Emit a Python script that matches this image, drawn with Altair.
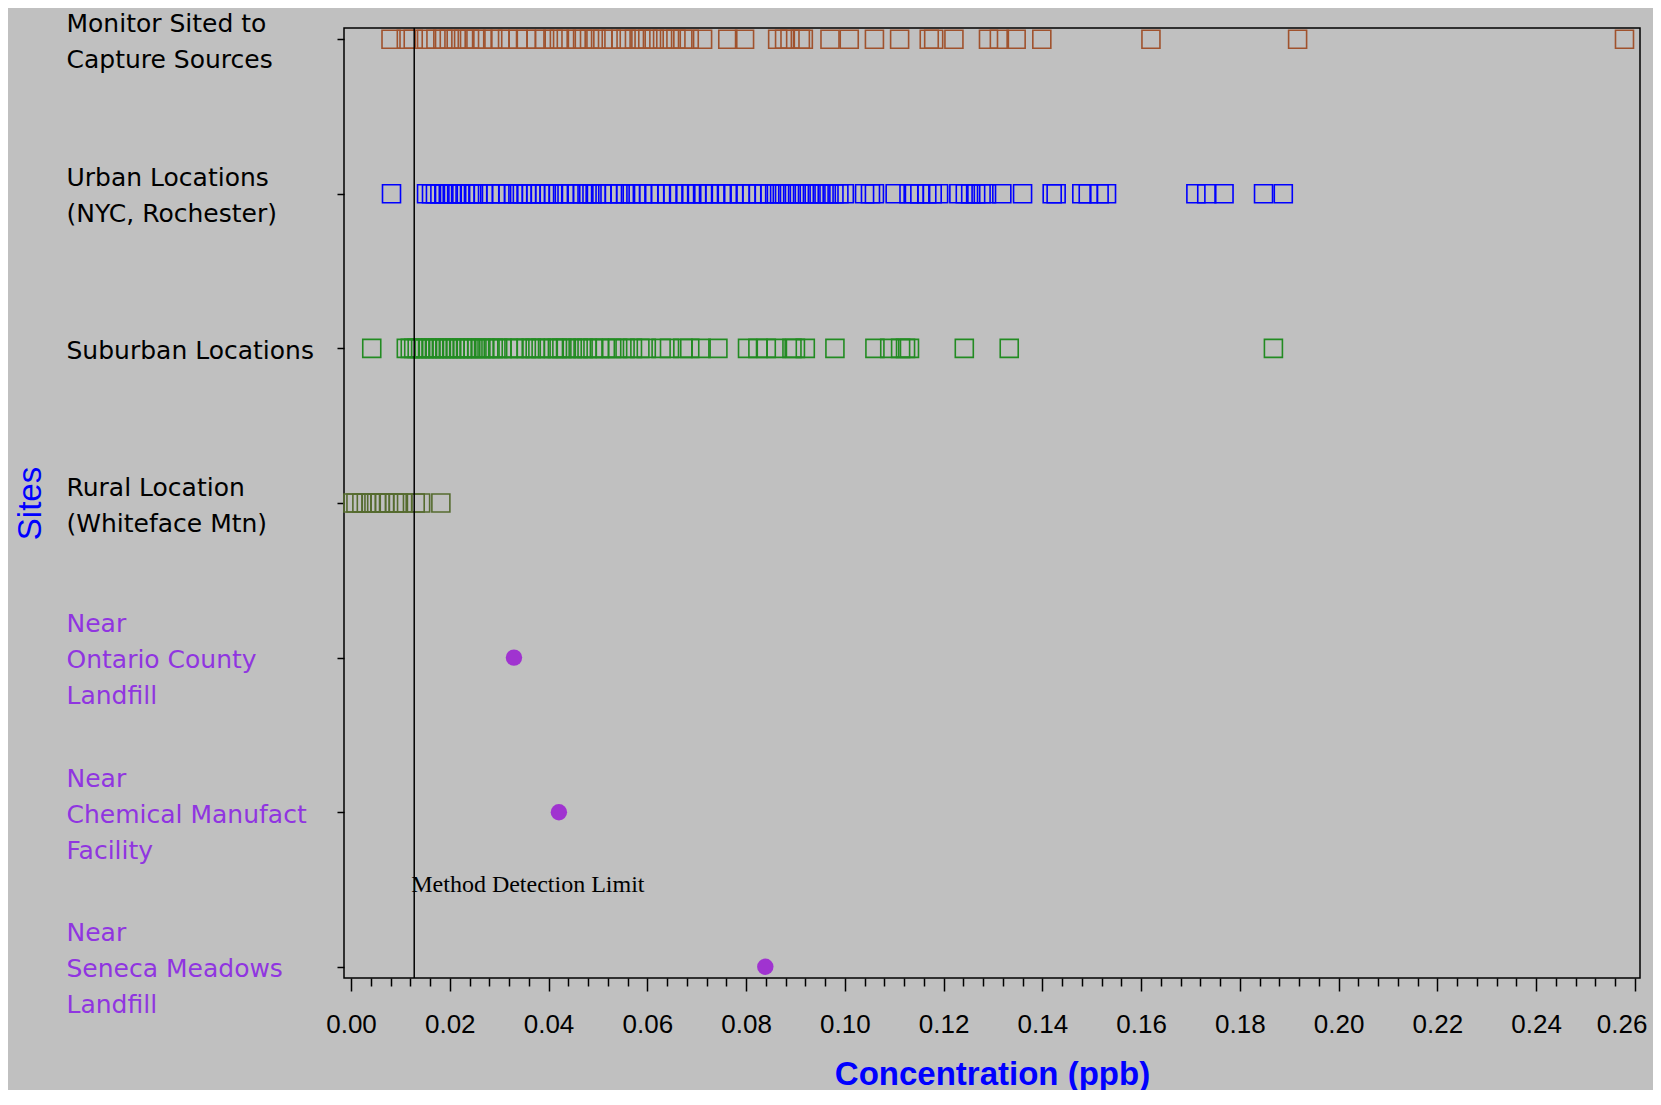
import altair as alt
import pandas as pd

sites = [
    "Monitor Sited to|Capture Sources",
    "Urban Locations|(NYC, Rochester)",
    "Suburban Locations",
    "Rural Location|(Whiteface Mtn)",
    "Near|Ontario County|Landfill",
    "Near|Chemical Manufact|Facility",
    "Near|Seneca Meadows|Landfill",
]
square_sites = sites[:4]
square_colors = ["#A0522D", "#0000FF", "#228B22", "#556B2F"]
dot_color = "#A033D0"
label_purple = "#9035E0"

monitor_vals = [
    0.0081, 0.0112, 0.0126, 0.0153, 0.0172, 0.0186, 0.0199, 0.0213, 0.0228, 0.0240,
    0.0253, 0.0267, 0.0287, 0.0302, 0.0317, 0.0338, 0.0355, 0.0375, 0.0392, 0.0409,
    0.0422, 0.0436, 0.0456, 0.0469, 0.0483, 0.0496, 0.0510, 0.0527, 0.0547, 0.0557,
    0.0574, 0.0587, 0.0601, 0.0614, 0.0631, 0.0645, 0.0658, 0.0672, 0.0685, 0.0712,
    0.0763, 0.0797, 0.0864, 0.0878, 0.0889, 0.0910, 0.0916, 0.0970, 0.1009, 0.1060,
    0.1111, 0.1171, 0.1180, 0.1221, 0.1291, 0.1313, 0.1347, 0.1399, 0.1620, 0.1917,
    0.2579,
]
urban_vals = [
    0.0082, 0.0153, 0.0163, 0.0171, 0.0180, 0.0188, 0.0197, 0.0205, 0.0214, 0.0222,
    0.0231, 0.0240, 0.0248, 0.0257, 0.0268, 0.0281, 0.0293, 0.0305, 0.0318, 0.0329,
    0.0338, 0.0347, 0.0356, 0.0365, 0.0374, 0.0383, 0.0392, 0.0401, 0.0410, 0.0420,
    0.0432, 0.0445, 0.0458, 0.0469, 0.0478, 0.0488, 0.0497, 0.0508, 0.0520, 0.0533,
    0.0545, 0.0556, 0.0566, 0.0577, 0.0590, 0.0603, 0.0615, 0.0627, 0.0640, 0.0652,
    0.0665, 0.0678, 0.0690, 0.0700, 0.0712, 0.0724, 0.0737, 0.0750, 0.0762, 0.0775,
    0.0788, 0.0800, 0.0812, 0.0825, 0.0837, 0.0848, 0.0858, 0.0868, 0.0878, 0.0888,
    0.0898, 0.0908, 0.0918, 0.0928, 0.0938, 0.0948, 0.0958, 0.0968, 0.0978, 0.0988,
    0.0999, 0.1040, 0.1052, 0.1060, 0.1102, 0.1130, 0.1141, 0.1152, 0.1166, 0.1177,
    0.1190, 0.1231, 0.1244, 0.1255, 0.1265, 0.1276, 0.1287, 0.1318, 0.1360, 0.1420,
    0.1428, 0.1480, 0.1493, 0.1515, 0.1530, 0.1711, 0.1733, 0.1768, 0.1848, 0.1888,
]
suburban_vals = [
    0.0042, 0.0112, 0.0120, 0.0127, 0.0134, 0.0141, 0.0148, 0.0155, 0.0162, 0.0169,
    0.0176, 0.0183, 0.0190, 0.0197, 0.0204, 0.0211, 0.0218, 0.0225, 0.0232, 0.0239,
    0.0247, 0.0255, 0.0263, 0.0271, 0.0279, 0.0288, 0.0297, 0.0306, 0.0318, 0.0330,
    0.0342, 0.0355, 0.0365, 0.0373, 0.0385, 0.0398, 0.0410, 0.0418, 0.0427, 0.0436,
    0.0448, 0.0460, 0.0470, 0.0478, 0.0490, 0.0503, 0.0515, 0.0528, 0.0540, 0.0555,
    0.0570, 0.0585, 0.0598, 0.0628, 0.0645, 0.0672, 0.0686, 0.0709, 0.0743, 0.0803,
    0.0824, 0.0841, 0.0861, 0.0893, 0.0900, 0.0920, 0.0980, 0.1061, 0.1091, 0.1113,
    0.1123, 0.1131, 0.1242, 0.1333, 0.1868,
]
rural_vals = [
    0.0004, 0.0010, 0.0022, 0.0031, 0.0041, 0.0052, 0.0059, 0.0068, 0.0076, 0.0088,
    0.0096, 0.0105, 0.0130, 0.0141, 0.0182,
]
near_sites = sites[4:]
near_vals = [0.0330, 0.0421, 0.0839]

mdl_value = 0.0128
mdl_label = "Method Detection Limit"
x_tick_values = [round(i * 0.004, 3) for i in range(66)]

rows = []
for site, vals in zip(square_sites, [monitor_vals, urban_vals, suburban_vals, rural_vals]):
    for v in vals:
        rows.append({"site": site, "value": v})
squares_df = pd.DataFrame(rows)
dots_df = pd.DataFrame({"site": near_sites, "value": near_vals})
mdl_df = pd.DataFrame({"site": [sites[-1]], "value": [mdl_value], "label": [mdl_label]})

major_test = "abs(datum.value*50 - round(datum.value*50)) < 0.01"

x_enc = alt.X(
    "value:Q",
    scale=alt.Scale(domain=[-0.00142, 0.26104], nice=False, zero=False),
    axis=alt.Axis(
        values=x_tick_values,
        title="Concentration (ppb)",
        titleFont="Liberation Sans",
        titleFontSize=33,
        titleFontWeight="bold",
        titleColor="#0000FF",
        titleY=106,
        titleBaseline="alphabetic",
        labelExpr=f"{major_test} ? format(datum.value, '.2f') : ''",
        labelFont="Liberation Sans",
        labelFontSize=26,
        labelColor="black",
        labelFlush=6,
        labelFlushOffset=12,
        labelOverlap=False,
        labelPadding=20,
        tickSize={"expr": f"{major_test} ? 13 : 8"},
        tickColor="black",
        tickWidth=1.5,
        domain=False,
        grid=False,
    ),
)

y_enc = alt.Y(
    "site:N",
    sort=sites,
    scale=alt.Scale(type="point", domain=sites, padding=0.0725),
    axis=alt.Axis(
        title="Sites",
        titleFont="Liberation Sans",
        titleFontSize=33,
        titleFontWeight="normal",
        titleColor="#0000FF",
        titleX=-314,
        titleY=475,
        titleAngle=-90,
        titleAlign="center",
        titleBaseline="middle",
        labelExpr="split(datum.value, '|')",
        labelAlign="left",
        labelBaseline="middle",
        labelOffset={"expr": "2 - 18*(length(split(datum.value, '|')) - 1)"},
        labelPadding=271,
        labelLimit=0,
        labelLineHeight=36,
        labelFont="DejaVu Sans",
        labelFontSize=25,
        labelColor={"condition": {"test": "indexof(datum.value, 'Near') == 0", "value": label_purple}, "value": "black"},
        tickSize=7,
        tickColor="black",
        tickWidth=1.5,
        domain=False,
        grid=False,
    ),
)

squares = alt.Chart(squares_df).mark_point(
    shape="square", filled=False, size=324, strokeWidth=1.6, opacity=1
).encode(
    x=x_enc,
    y=y_enc,
    color=alt.Color("site:N", scale=alt.Scale(domain=square_sites, range=square_colors), legend=None),
)

dots = alt.Chart(dots_df).mark_point(
    shape="circle", filled=True, size=270, color=dot_color, opacity=1
).encode(x=x_enc, y=y_enc)

rule = alt.Chart(mdl_df).mark_rule(color="black", strokeWidth=1.5).encode(x=x_enc)

text = alt.Chart(mdl_df).mark_text(
    font="Liberation Serif", fontSize=24, align="left", baseline="alphabetic",
    dx=-3, dy=-75, color="black"
).encode(x=x_enc, y=y_enc, text="label:N")

chart = alt.layer(squares, dots, rule, text).properties(
    width=1296,
    height=950,
    autosize=alt.AutoSizeParams(type="none"),
    padding={"left": 336, "top": 20, "right": 13, "bottom": 112},
    background="#C0C0C0",
).configure_view(
    stroke="black", strokeWidth=1.5, fill="#C0C0C0"
)

chart.save("out.html", embed_options={"renderer": "svg", "actions": False})
